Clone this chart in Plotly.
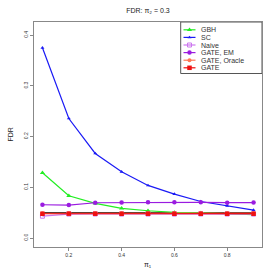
import plotly.graph_objects as go

pi1 = [0.1, 0.2, 0.3, 0.4, 0.5, 0.6, 0.7, 0.8, 0.9]
gbh = [0.1286, 0.0833, 0.0682, 0.0585, 0.0538, 0.0505, 0.0495, 0.0480, 0.0463]
sc = [0.375, 0.2356, 0.1667, 0.1305, 0.1037, 0.0866, 0.0720, 0.0636, 0.0550]
naive = [0.0430, 0.0472, 0.0474, 0.0472, 0.0473, 0.0472, 0.0474, 0.0473, 0.0472]
gate_em = [0.0656, 0.0650, 0.0695, 0.0700, 0.0705, 0.0705, 0.0703, 0.0697, 0.0698]
gate_oracle = [0.0488, 0.0490, 0.0489, 0.0490, 0.0489, 0.0490, 0.0489, 0.0490, 0.0489]
gate = [0.0478, 0.0480, 0.0479, 0.0478, 0.0479, 0.0478, 0.0479, 0.0478, 0.0479]
nominal = [0.05] * len(pi1)

names = ["GBH", "SC", "Naive", "GATE, EM", "GATE, Oracle", "GATE"]
values = [gbh, sc, naive, gate_em, gate_oracle, gate]
colors = ["#22EE22", "#1A1AF5", "#CC77EE", "#9A1BE0", "#FF7755", "#EE1111"]
symbols = ["triangle-up", "triangle-up", "square-open", "circle", "circle", "square"]
sizes = [4.5, 3.5, 4, 4.5, 4, 4.5]

fig = go.Figure()
fig.add_trace(go.Scatter(x=pi1, y=nominal, mode="lines", line=dict(color="black", width=1),
                         showlegend=False, hoverinfo="skip"))
for name, vals, col, sym, sz in zip(names, values, colors, symbols, sizes):
    fig.add_trace(go.Scatter(x=pi1, y=vals, name=name, mode="lines+markers",
                             line=dict(color=col, width=1.2), showlegend=False,
                             marker=dict(symbol=sym, size=sz, color=col)))

# compact legend drawn on an overlay axis measured in pixels of the plot area
LX0, LX1, LY0, LY1 = 180.7, 262, 22, 73.5
fig.add_shape(type="rect", xref="x2", yref="y2", x0=LX0, x1=LX1, y0=LY0, y1=LY1,
              line=dict(color="#555555", width=1), fillcolor="white", layer="below")
for i, (name, col, sym, sz) in enumerate(zip(names, colors, symbols, sizes)):
    yy = 29.8 + i * 7.6
    fig.add_trace(go.Scatter(x=[183.5, 195.5], y=[yy, yy], mode="lines", xaxis="x2", yaxis="y2",
                             line=dict(color=col, width=1.2), showlegend=False, hoverinfo="skip"))
    fig.add_trace(go.Scatter(x=[189.5], y=[yy], mode="markers", xaxis="x2", yaxis="y2",
                             marker=dict(symbol=sym, size=sz, color=col),
                             showlegend=False, hoverinfo="skip"))
    fig.add_annotation(x=198.5, y=yy, xref="x2", yref="y2", text=name, showarrow=False,
                       xanchor="left", yanchor="middle",
                       font=dict(size=7, color="#333333", family="Liberation Sans, Arial"))

# axis titles
fig.add_annotation(x=0.5, y=-0.0756, xref="paper", yref="paper", text="π₁", showarrow=False,
                   xanchor="center", yanchor="middle", font=dict(size=7, color="#222222"))
fig.add_annotation(x=-0.105, y=0.5, xref="paper", yref="paper", text="FDR", showarrow=False,
                   textangle=-90, xanchor="center", yanchor="middle",
                   font=dict(size=7, color="#222222"))

axis_common = dict(showgrid=False, zeroline=False, showline=True, linecolor="#888888",
                   linewidth=1, mirror=True, ticks="outside", ticklen=3, tickcolor="#888888",
                   automargin=False,
                   tickfont=dict(family="Liberation Sans, Arial", size=5, color="#333333"))
fig.update_layout(
    xaxis=dict(range=[0.068, 0.932], tickvals=[0.2, 0.4, 0.6, 0.8],
               ticktext=["0.2", "0.4", "0.6", "0.8"], **axis_common),
    yaxis=dict(range=[-0.0177, 0.4258], tickvals=[0.0, 0.1, 0.2, 0.3, 0.4],
               ticktext=["0.0", "0.1", "0.2", "0.3", "0.4"], tickangle=-90, **axis_common),
    xaxis2=dict(overlaying="x", range=[34, 262], visible=False, fixedrange=True),
    yaxis2=dict(overlaying="y", range=[247, 22], visible=False, fixedrange=True),
    width=273, height=273,
    margin=dict(l=34, r=11, t=22, b=26),
    paper_bgcolor="white", plot_bgcolor="white",
    font=dict(family="Liberation Sans, Arial", color="#222222"),
    title=dict(text="FDR: π₂ = 0.3", x=0.542, xanchor="center", y=0.963, yanchor="middle",
               font=dict(size=7, color="#222222")),
    showlegend=False,
)
fig.write_html("out.html", config={"displayModeBar": False},
               post_script="document.body.style.margin='0';")
